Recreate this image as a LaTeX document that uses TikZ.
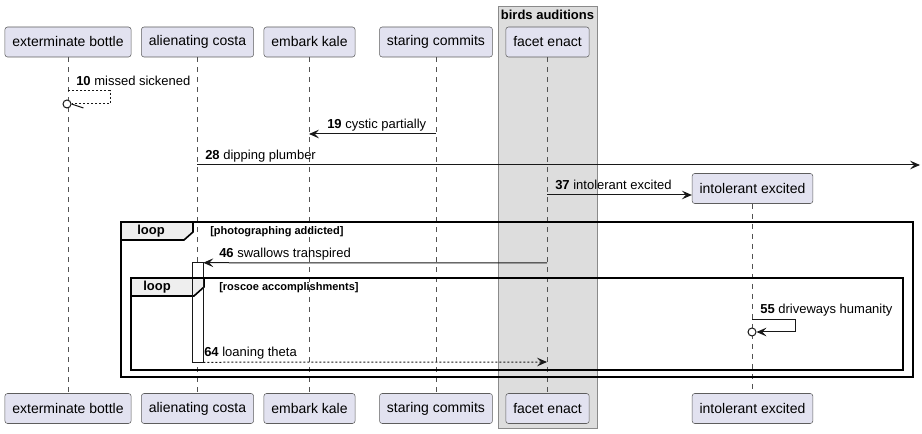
\documentclass[tikz,border=0pt]{standalone}
\usepackage{fontspec}
\setmainfont{Liberation Sans}
\usepackage{tikz}
\usetikzlibrary{arrows.meta}
\usetikzlibrary{shapes}

\definecolor{partfill}{HTML}{E2E2F0}
\definecolor{partline}{HTML}{181818}
\definecolor{boxfill}{HTML}{DDDDDD}
\definecolor{boxline}{HTML}{8A8A8A}
\definecolor{tagfill}{HTML}{EEEEEE}

\begin{document}
\begin{tikzpicture}[x=0.75pt,y=-0.75pt]
\tikzstyle{every node}=[font=\fontsize{9.75}{11}\selectfont]
\tikzstyle{part}=[draw=partline!70,fill=partfill,rounded corners=2pt,minimum height=22.5pt,inner xsep=5.6pt,font=\fontsize{10.5}{12}\selectfont]
\tikzstyle{life}=[draw=partline!75,dash pattern=on 3.75pt off 3.75pt,line width=0.4pt]
\tikzstyle{msg}=[draw=partline,line width=0.75pt,-{Stealth[length=7.5pt,width=6.5pt,inset=3pt]}]
\tikzstyle{ret}=[msg,dash pattern=on 1.5pt off 1.5pt]
\tikzstyle{lbl}=[anchor=base west,inner sep=0pt]
\tikzstyle{frame}=[draw=black,line width=1.5pt]
\tikzstyle{tag}=[draw=black,line width=1.2pt,fill=tagfill]
\tikzstyle{looplbl}=[inner sep=0pt,font=\bfseries\fontsize{9.75}{11}\selectfont]
\tikzstyle{cond}=[anchor=west,inner sep=0pt,font=\bfseries\fontsize{8.25}{10}\selectfont]
\tikzstyle{lost}=[circle,draw=partline,fill=white,line width=0.75pt,inner sep=0pt,minimum size=6pt]

\useasboundingbox (0,0) rectangle (922,434);
\fill[white] (0,0) rectangle (922,434);

\node[draw=boxline,fill=boxfill,anchor=north west,inner sep=0pt,minimum width=74.25pt,minimum height=316.5pt] (grp) at (498,6) {};
\node[font=\bfseries\fontsize{9.75}{11}\selectfont,inner sep=0pt] (grplbl) at (547.5,14.5) {birds auditions};

\node[part] (eb) at (68,42) {exterminate bottle};
\node[part] (ac) at (197.5,42) {alienating costa};
\node[part] (ek) at (309.5,42) {embark kale};
\node[part] (sc) at (436,42) {staring commits};
\node[part] (fe) at (547.5,42) {facet enact};
\node[part] (ie) at (752.5,188.5) {intolerant excited};
\node[part] (eb2) at (68,408.5) {exterminate bottle};
\node[part] (ac2) at (197.5,408.5) {alienating costa};
\node[part] (ek2) at (309.5,408.5) {embark kale};
\node[part] (sc2) at (436,408.5) {staring commits};
\node[part] (fe2) at (547.5,408.5) {facet enact};
\node[part] (ie2) at (752.5,408.5) {intolerant excited};

\draw[life] (eb) -- (eb2);
\draw[life] (ac) -- (ac2);
\draw[life] (ek) -- (ek2);
\draw[life] (sc) -- (sc2);
\draw[life] (fe) -- (fe2);
\draw[life] (ie) -- (ie2);

\coordinate (m10s) at (68,91);
\node[lost] (o10) at (67,104) {};
\draw[ret,-] (m10s) -- ++(42,0) |- (o10.east);
\draw[draw=partline,line width=0.75pt] (o10.east) -- ++(12,4);
\node[lbl] (l10) at (76,86) {\textbf{10} missed sickened};

\coordinate (m19s) at (436,134);
\coordinate (m19e) at (309,134);
\draw[msg] (m19s) -- (m19e);
\node[lbl] (l19) at (327,129) {\textbf{19} cystic partially};

\coordinate (m28s) at (197,165);
\coordinate (m28e) at (920,165);
\draw[msg] (m28s) -- (m28e);
\node[lbl] (l28) at (205,160) {\textbf{28} dipping plumber};

\coordinate (m37s) at (547,195);
\draw[msg] (m37s) -- (m37s -| ie.west);
\node[lbl] (l37) at (555,190) {\textbf{37} intolerant excited};

\draw[frame] (121,222) rectangle (913,377);
\draw[tag] (121,222) -- (193,222) -- (193,232) -- (184,240) -- (121,240) -- cycle;
\node[looplbl] (loop1) at (151,231.5) {loop};
\node[cond] (c1) at (210,232) {[photographing addicted]};

\node[fill=white,inner sep=0pt,minimum width=7.5pt,minimum height=74.25pt] (act) at (198,312.5) {};
\draw[tag] (131,278) -- (204,278) -- (204,287) -- (194,296) -- (131,296) -- cycle;
\node[looplbl] (loop2) at (157,287.5) {loop};
\node[cond] (c2) at (219,288) {[roscoe accomplishments]};
\draw[draw=partline,line width=0.6pt] (act.north west) rectangle (act.south east);
\draw[frame] (131,278) rectangle (903,370);

\coordinate (m46s) at (547,263);
\draw[msg] (m46s) -- (act.north east);
\node[lbl] (l46) at (219,258) {\textbf{46} swallows transpired};

\coordinate (m55s) at (752,320);
\node[lost] (o55) at (752,332) {};
\draw[msg] (m55s) -- ++(43,0) -- ++(0,12) -- (o55.east);
\node[lbl] (l55) at (760,314) {\textbf{55} driveways humanity};

\coordinate (m64e) at (547,362);
\draw[ret] (act.south east) -- (m64e);
\node[lbl] (l64) at (204,357) {\textbf{64} loaning theta};
\end{tikzpicture}
\end{document}
